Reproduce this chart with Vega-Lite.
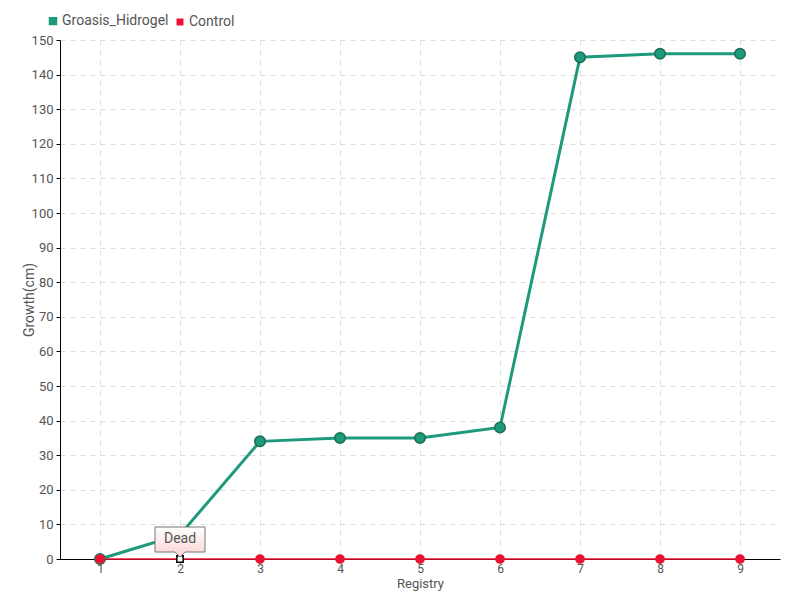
{
  "$schema": "https://vega.github.io/schema/vega-lite/v6.json",
  "width": 720,
  "height": 519,
  "autosize": {"type": "none"},
  "padding": {"left": 60, "top": 40, "right": 20, "bottom": 41},
  "background": "white",
  "config": {
    "font": "Roboto, sans-serif",
    "view": {"stroke": null},
    "axis": {
      "labelColor": "#555555",
      "titleColor": "#555555",
      "labelFontSize": 13,
      "titleFontSize": 14,
      "titleFontWeight": "normal",
      "domainColor": "#000000",
      "tickColor": "#000000",
      "tickSize": 4,
      "gridColor": "#dddddd",
      "gridDash": [5, 5]
    }
  },
  "datasets": {
    "series": [
      {"Registry": 1, "Growth": 0, "Series": "Groasis_Hidrogel"},
      {"Registry": 2, "Growth": 7, "Series": "Groasis_Hidrogel"},
      {"Registry": 3, "Growth": 34, "Series": "Groasis_Hidrogel"},
      {"Registry": 4, "Growth": 35, "Series": "Groasis_Hidrogel"},
      {"Registry": 5, "Growth": 35, "Series": "Groasis_Hidrogel"},
      {"Registry": 6, "Growth": 38, "Series": "Groasis_Hidrogel"},
      {"Registry": 7, "Growth": 145, "Series": "Groasis_Hidrogel"},
      {"Registry": 8, "Growth": 146, "Series": "Groasis_Hidrogel"},
      {"Registry": 9, "Growth": 146, "Series": "Groasis_Hidrogel"},
      {"Registry": 1, "Growth": 0, "Series": "Control"},
      {"Registry": 2, "Growth": 0, "Series": "Control"},
      {"Registry": 3, "Growth": 0, "Series": "Control"},
      {"Registry": 4, "Growth": 0, "Series": "Control"},
      {"Registry": 5, "Growth": 0, "Series": "Control"},
      {"Registry": 6, "Growth": 0, "Series": "Control"},
      {"Registry": 7, "Growth": 0, "Series": "Control"},
      {"Registry": 8, "Growth": 0, "Series": "Control"},
      {"Registry": 9, "Growth": 0, "Series": "Control"}
    ],
    "notes": [
      {"Registry": 2, "Growth": 0, "label": "Dead"}
    ]
  },
  "encoding": {
    "x": {
      "field": "Registry",
      "type": "ordinal",
      "scale": {"type": "point", "padding": 0.5},
      "axis": {"title": "Registry", "labelAngle": 0, "grid": true, "titlePadding": 3, "labelPadding": 0, "labelFontSize": 12, "titleFontSize": 13}
    },
    "y": {
      "field": "Growth",
      "type": "quantitative",
      "scale": {"domain": [0, 150], "nice": false},
      "axis": {"title": "Growth(cm)", "tickCount": 15, "grid": true, "titleX": -24, "labelPadding": 3}
    }
  },
  "layer": [
    {
      "data": {"name": "series"},
      "mark": {"type": "line"},
      "encoding": {
        "strokeWidth": {
          "field": "Series",
          "type": "nominal",
          "scale": {"domain": ["Groasis_Hidrogel", "Control"], "range": [3, 1.5]},
          "legend": null
        },
        "color": {
          "field": "Series",
          "type": "nominal",
          "scale": {"domain": ["Groasis_Hidrogel", "Control"], "range": ["#1d9a7b", "#ee1133"]},
          "legend": {
            "title": null,
            "orient": "none",
            "legendX": -14,
            "legendY": -26,
            "direction": "horizontal",
            "symbolType": "square",
            "symbolSize": 30,
            "labelFontSize": 14,
            "labelColor": "#555555",
            "columnPadding": 4,
            "labelOffset": 2,
            "encode": {
              "symbols": {
                "update": {
                  "fill": {"scale": "color", "field": "value"},
                  "strokeWidth": {"value": 0}
                }
              }
            }
          }
        }
      }
    },
    {
      "data": {"name": "series"},
      "transform": [{"filter": "datum.Series == 'Groasis_Hidrogel' && datum.Registry != 2"}],
      "mark": {"type": "point", "filled": true, "size": 110, "fill": "#1d9a7b", "stroke": "#1c6e55", "strokeWidth": 1.5, "opacity": 1}
    },
    {
      "data": {"name": "series"},
      "transform": [{"filter": "datum.Series == 'Control' && datum.Registry != 2"}],
      "mark": {"type": "point", "filled": true, "size": 60, "fill": "#ee1133", "stroke": "#ee1133", "opacity": 1}
    },
    {
      "data": {"name": "notes"},
      "mark": {"type": "point", "shape": "square", "filled": true, "size": 40, "fill": "#ffffff", "stroke": "#000000", "strokeWidth": 1.5, "opacity": 1}
    },
    {
      "data": {"name": "notes"},
      "mark": {
        "type": "point",
        "shape": "M0,-2 L-5,-7 L-25,-7 L-25,-32 L25,-32 L25,-7 L5,-7 Z",
        "size": 4,
        "filled": true,
        "opacity": 1,
        "fill": {"gradient": "linear", "x1": 0, "y1": 0, "x2": 0, "y2": 1, "stops": [{"offset": 0, "color": "#ffffff"}, {"offset": 1, "color": "#fbd3d3"}]},
        "stroke": "#777777",
        "strokeWidth": 1
      }
    },
    {
      "data": {"name": "notes"},
      "mark": {"type": "text", "dy": -20, "fontSize": 14, "color": "#555555"},
      "encoding": {"text": {"field": "label"}}
    }
  ]
}
